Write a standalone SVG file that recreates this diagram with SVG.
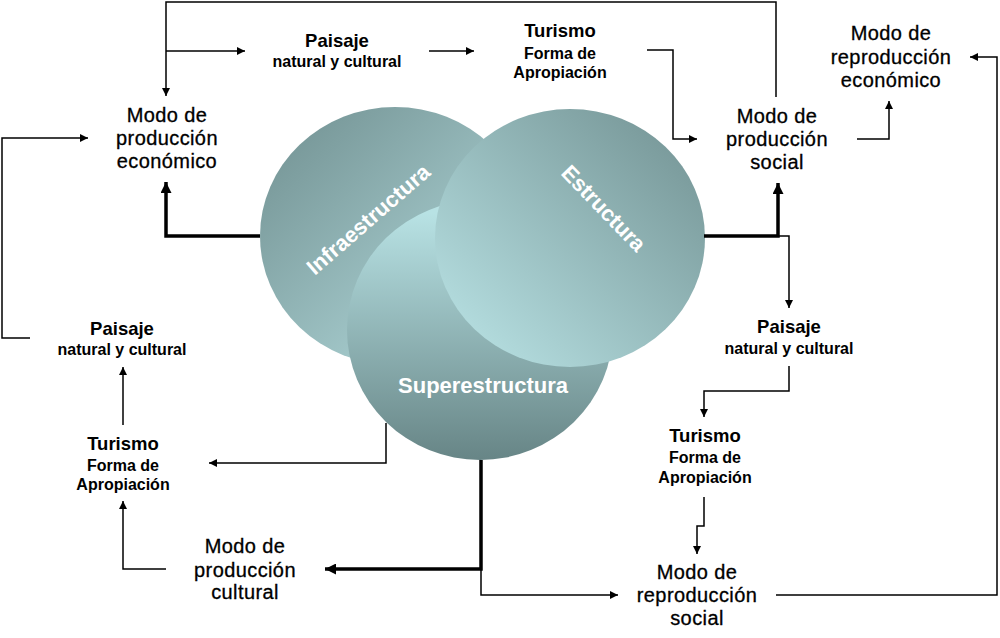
<svg xmlns="http://www.w3.org/2000/svg" width="1000" height="638" viewBox="0 0 1000 638">
<style>
.m{font-family:"Liberation Sans",Arial,sans-serif;font-size:20px;letter-spacing:0.4px;fill:#000;stroke:#000;stroke-width:0.3px;text-anchor:middle}
.t{font-family:"Liberation Sans",Arial,sans-serif;font-size:18.5px;font-weight:bold;fill:#000;text-anchor:middle}
.s{font-family:"Liberation Sans",Arial,sans-serif;font-size:16px;font-weight:bold;fill:#000;text-anchor:middle}
.c{font-family:"Liberation Sans",Arial,sans-serif;font-size:22px;font-weight:bold;fill:#fff;text-anchor:middle}
.thin{fill:none;stroke:#000;stroke-width:1.5;marker-end:url(#ah)}
.thick{fill:none;stroke:#000;stroke-width:3.5;marker-end:url(#ahb)}
</style>
<defs>
<marker id="ah" viewBox="0 0 10 10" refX="10" refY="5" markerWidth="9" markerHeight="8" markerUnits="userSpaceOnUse" orient="auto">
<path d="M0,0 L10,5 L0,10 z" fill="#000"/>
</marker>
<marker id="ahb" viewBox="0 0 10 10" refX="10" refY="5" markerWidth="12" markerHeight="11" markerUnits="userSpaceOnUse" orient="auto">
<path d="M0,0 L10,5 L0,10 z" fill="#000"/>
</marker>
<linearGradient id="gInfra" x1="0.1" y1="0.1" x2="0.9" y2="0.9">
<stop offset="0" stop-color="#779798"/>
<stop offset="1" stop-color="#b3dadc"/>
</linearGradient>
<linearGradient id="gEst" x1="0.9" y1="0.1" x2="0.1" y2="0.9">
<stop offset="0" stop-color="#789899"/>
<stop offset="1" stop-color="#b5dee0"/>
</linearGradient>
<linearGradient id="gSup" x1="0.5" y1="0" x2="0.5" y2="1">
<stop offset="0.05" stop-color="#b8e2e4"/>
<stop offset="1" stop-color="#678586"/>
</linearGradient>
</defs>

<g id="circles">
<g id="infraestructura">
<ellipse cx="395" cy="236" rx="135" ry="129" fill="url(#gInfra)"/>
</g>
<g id="superestructura">
<ellipse cx="480" cy="330" rx="133" ry="130" fill="url(#gSup)"/>
</g>
<g id="estructura">
<ellipse cx="570" cy="238" rx="135" ry="129" fill="url(#gEst)"/>
</g>
<text class="c" transform="translate(368,219) rotate(-41)" y="8">Infraestructura</text>
<text class="c" transform="translate(604,208) rotate(46)" y="8">Estructura</text>
<text class="c" x="483" y="393">Superestructura</text>
</g>

<g id="connectors">
<path class="thin" d="M776,97 V2 H166 V96"/>
<path class="thin" d="M166,51 H245"/>
<path class="thin" d="M429,51 H474"/>
<path class="thin" d="M647,50 H673 V139 H697"/>
<path class="thin" d="M857,139 H889 V101"/>
<path class="thin" d="M776,595 H997 V57 H970"/>
<path class="thick" d="M260,236 H166 V182"/>
<path class="thick" d="M704,236 H778 V183"/>
<path class="thin" d="M778,236 H789 V308"/>
<path class="thick" d="M481,460 V569 H325"/>
<path class="thin" d="M481,569 V595 H618"/>
<path class="thin" d="M386,423 V463 H209"/>
<path class="thin" d="M166,569 H123 V501"/>
<path class="thin" d="M123,425 V367"/>
<path class="thin" d="M30,338 H2 V138 H88"/>
<path class="thin" d="M789,366 V391 H704 V417"/>
<path class="thin" d="M704,497 V526 H697 V554"/>
</g>

<g id="paisaje-top">
<text class="t" x="337" y="47">Paisaje</text>
<text class="s" x="337" y="67">natural y cultural</text>
</g>
<g id="turismo-top">
<text class="t" x="560" y="37">Turismo</text>
<text class="s" x="560" y="59">Forma de</text>
<text class="s" x="560" y="78">Apropiación</text>
</g>
<g id="modo-produccion-economico">
<text class="m" x="167" y="122">Modo de</text>
<text class="m" x="167" y="145">producción</text>
<text class="m" x="167" y="168">económico</text>
</g>
<g id="modo-produccion-social">
<text class="m" x="777" y="123">Modo de</text>
<text class="m" x="777" y="146">producción</text>
<text class="m" x="777" y="169">social</text>
</g>
<g id="modo-reproduccion-economico">
<text class="m" x="891" y="40">Modo de</text>
<text class="m" x="891" y="63.5">reproducción</text>
<text class="m" x="891" y="87">económico</text>
</g>
<g id="paisaje-left">
<text class="t" x="122" y="335">Paisaje</text>
<text class="s" x="122" y="355">natural y cultural</text>
</g>
<g id="turismo-left">
<text class="t" x="123" y="450">Turismo</text>
<text class="s" x="123" y="471">Forma de</text>
<text class="s" x="123" y="490">Apropiación</text>
</g>
<g id="modo-produccion-cultural">
<text class="m" x="245" y="553">Modo de</text>
<text class="m" x="245" y="577">producción</text>
<text class="m" x="245" y="599">cultural</text>
</g>
<g id="paisaje-right">
<text class="t" x="789" y="333">Paisaje</text>
<text class="s" x="789" y="354">natural y cultural</text>
</g>
<g id="turismo-right">
<text class="t" x="705" y="442">Turismo</text>
<text class="s" x="705" y="463">Forma de</text>
<text class="s" x="705" y="483">Apropiación</text>
</g>
<g id="modo-reproduccion-social">
<text class="m" x="697" y="579">Modo de</text>
<text class="m" x="697" y="602">reproducción</text>
<text class="m" x="697" y="625">social</text>
</g>
</svg>
